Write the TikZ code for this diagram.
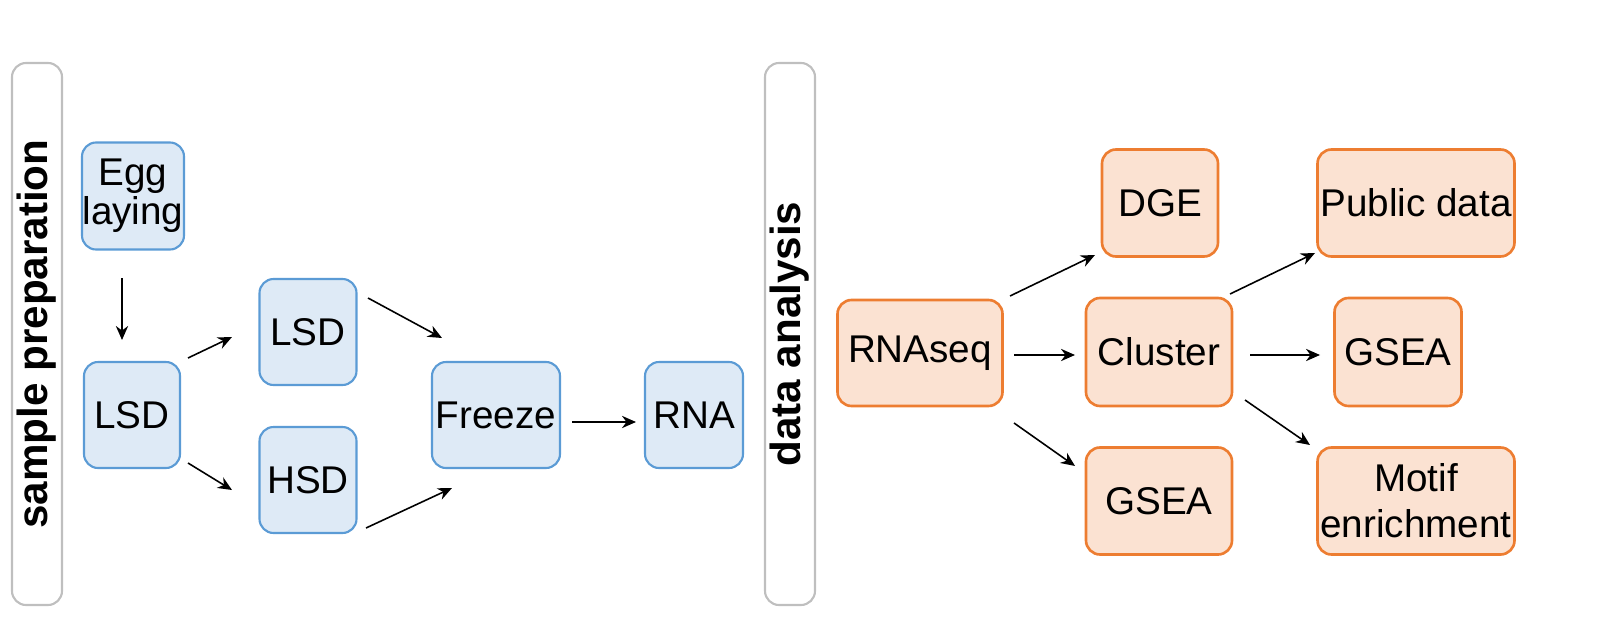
\documentclass[tikz,border=0pt]{standalone}
\usepackage{fontspec}
\setmainfont{Liberation Sans}
\usetikzlibrary{arrows.meta}
\definecolor{bfill}{HTML}{DEEAF6}
\definecolor{bline}{HTML}{5B9BD5}
\definecolor{ofill}{HTML}{FBE2D2}
\definecolor{oline}{HTML}{ED7D31}
\begin{document}
\begin{tikzpicture}[x=0.02cm,y=-0.02cm,
  every node/.style={font=\fontsize{22}{24}\selectfont},
  bx/.style={draw=bline,fill=bfill,line width=1.2pt,rounded corners=8pt,align=center,inner sep=0pt},
  ox/.style={draw=oline,fill=ofill,line width=1.5pt,rounded corners=8pt,align=center,inner sep=0pt},
  ar/.style={-{Stealth[length=8pt,width=7pt]},line width=0.9pt},
  br/.style={draw=gray!50,line width=1.2pt,rounded corners=8pt}]
\useasboundingbox (0,0) rectangle (1615,635);
\draw[br] (12,63) rectangle (62,605);
\draw[br] (765,63) rectangle (815,605);
\node[rotate=90,font=\fontsize{24}{26}\selectfont\bfseries] (sp) at (37,334) {sample preparation};
\node[rotate=90,font=\fontsize{24}{26}\selectfont\bfseries] (da) at (790,334) {data analysis};
\node[bx,minimum width=102*0.02cm,minimum height=107*0.02cm] (egg) at (133,196) {Egg\\[-2pt]laying};
\node[bx,minimum width=96*0.02cm,minimum height=106*0.02cm] (lsd1) at (132,415) {LSD};
\node[bx,minimum width=97*0.02cm,minimum height=106*0.02cm] (lsd2) at (308,332) {LSD};
\node[bx,minimum width=97*0.02cm,minimum height=106*0.02cm] (hsd) at (308,480) {HSD};
\node[bx,minimum width=128*0.02cm,minimum height=106*0.02cm] (frz) at (496,415) {Freeze};
\node[bx,minimum width=98*0.02cm,minimum height=106*0.02cm] (rna) at (694,415) {RNA};
\node[ox,minimum width=165*0.02cm,minimum height=106*0.02cm] (seq) at (920,353) {RNAseq};
\node[ox,minimum width=116*0.02cm,minimum height=107*0.02cm] (dge) at (1160,203) {DGE};
\node[ox,minimum width=146*0.02cm,minimum height=108*0.02cm] (clu) at (1159,352) {Cluster};
\node[ox,minimum width=146*0.02cm,minimum height=107*0.02cm] (gsea1) at (1159,501) {GSEA};
\node[ox,minimum width=197*0.02cm,minimum height=107*0.02cm] (pub) at (1416,203) {Public data};
\node[ox,minimum width=127*0.02cm,minimum height=108*0.02cm] (gsea2) at (1398,352) {GSEA};
\node[ox,minimum width=197*0.02cm,minimum height=107*0.02cm] (mot) at (1416,501) {Motif\\[2pt]enrichment};
\coordinate (a1) at (122,278); \coordinate (b1) at (122,340);
\coordinate (a2) at (188,358); \coordinate (b2) at (232,337);
\coordinate (a3) at (188,463); \coordinate (b3) at (232,490);
\coordinate (a4) at (368,298); \coordinate (b4) at (442,338);
\coordinate (a5) at (366,528); \coordinate (b5) at (452,488);
\coordinate (a6) at (572,422); \coordinate (b6) at (636,422);
\coordinate (a7) at (1010,296); \coordinate (b7) at (1095,255);
\coordinate (a8) at (1014,355); \coordinate (b8) at (1075,355);
\coordinate (a9) at (1014,423); \coordinate (b9) at (1075,466);
\coordinate (a10) at (1230,294); \coordinate (b10) at (1315,253);
\coordinate (a11) at (1250,355); \coordinate (b11) at (1320,355);
\coordinate (a12) at (1245,400); \coordinate (b12) at (1310,445);
\foreach \i in {1,...,12} {\draw[ar] (a\i) -- (b\i);}
\end{tikzpicture}
\end{document}
